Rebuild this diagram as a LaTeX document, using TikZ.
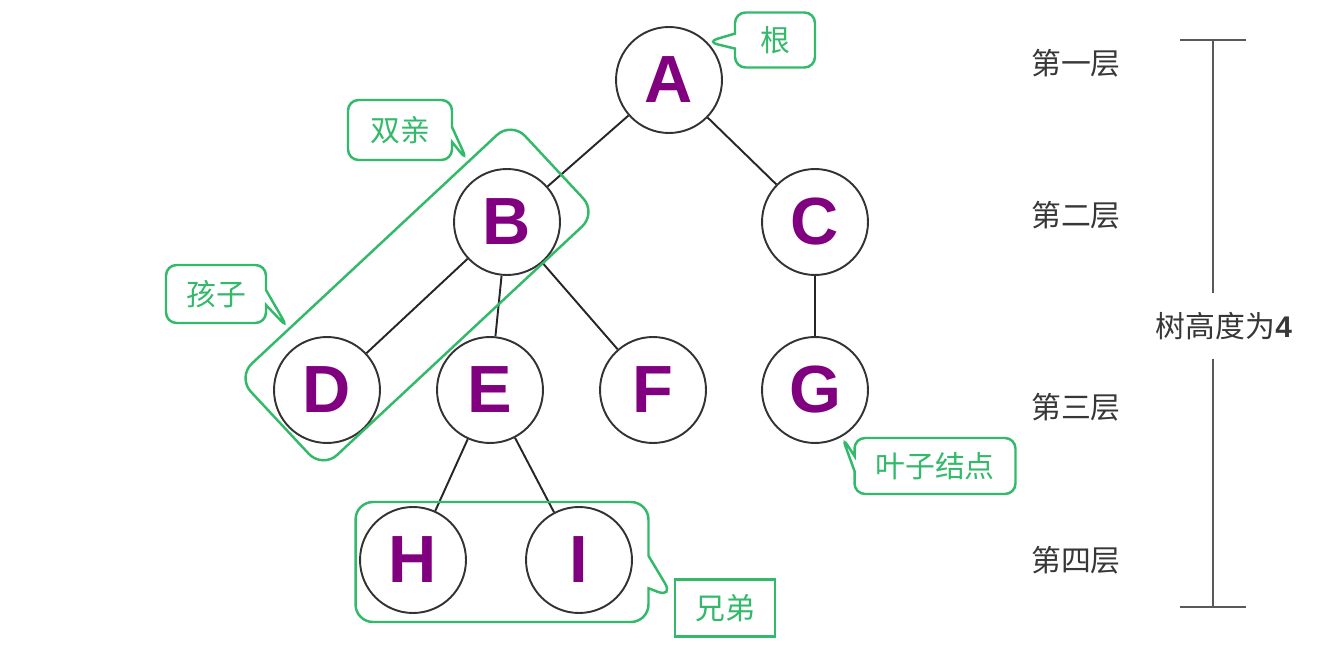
\documentclass[tikz,border=0pt]{standalone}
\usepackage{fontspec}
\setmainfont{Liberation Sans}
\newfontfamily\cjk{Noto Sans CJK SC}
\usetikzlibrary{shapes.callouts,calc}
\definecolor{letterpurple}{RGB}{128,0,128}
\definecolor{notegreen}{RGB}{50,185,105}
\definecolor{layergray}{RGB}{55,55,55}
\tikzstyle{tnode}=[circle,draw=black!80,line width=1.1pt,minimum size=2.12cm,inner sep=0pt,text=letterpurple,font=\fontsize{38}{38}\selectfont\bfseries]
\tikzstyle{tedge}=[line width=1.1pt,black!85]
\tikzstyle{note}=[rectangle callout,draw=notegreen,line width=1.4pt,rounded corners=6pt,text=notegreen,font=\cjk\fontsize{17}{17}\selectfont,inner sep=0pt,callout pointer width=0.3cm]
\tikzstyle{layer}=[text=layergray,font=\cjk\fontsize{17}{17}\selectfont]
\tikzstyle{bar}=[line width=1.1pt,black!65]

\begin{document}
\begin{tikzpicture}[x=0.02cm,y=-0.02cm]
\useasboundingbox (0,0) rectangle (1318,648);
\node[tnode] (A) at (669,80) {A};
\node[tnode] (B) at (507,222) {B};
\node[tnode] (C) at (815,222) {C};
\node[tnode] (D) at (327,390) {D};
\node[tnode] (E) at (490,390) {E};
\node[tnode] (F) at (653,390) {F};
\node[tnode] (G) at (815,390) {G};
\node[tnode] (H) at (413,560) {H};
\node[tnode] (I) at (579,560) {I};
\draw[tedge](A)--(B);\draw[tedge](A)--(C);\draw[tedge](B)--(D);\draw[tedge](B)--(E);\draw[tedge](B)--(F);
\draw[tedge](C)--(G);\draw[tedge](E)--(H);\draw[tedge](E)--(I);

% callouts
\node[draw=notegreen,line width=1.4pt,rounded corners=0.4cm,rotate=43,minimum width=7.5cm,minimum height=2.5cm] (parentbox) at (417,295) {};
\coordinate (ptpar) at ($(parentbox.north west)!0.84!(parentbox.north east)$);
\coordinate (ptkid) at ($(parentbox.north west)!0.19!(parentbox.north east)$);
\node[note,minimum width=1.6cm,minimum height=1.1cm,callout absolute pointer=(A.45)] (root) at (775,40) {根};
\node[note,minimum width=2.08cm,minimum height=1.2cm,callout absolute pointer=(ptpar)] (parent) at (400,130) {双亲};
\node[note,minimum width=2cm,minimum height=1.16cm,callout absolute pointer=(ptkid)] (kid) at (216,294) {孩子};
\node[note,minimum width=3.22cm,minimum height=1.12cm,callout absolute pointer=(G.-60)] (leaf) at (935,466) {叶子结点};
\node[draw=notegreen,line width=1.4pt,text=notegreen,font=\cjk\fontsize{17}{17}\selectfont,minimum width=2cm,minimum height=1.14cm] (brother) at (725,608) {兄弟};
\coordinate (ptsib) at ($(brother.west)+(0,-10)$);
\node[note,rounded corners=0.35cm,minimum width=5.86cm,minimum height=2.4cm,callout pointer width=0.65cm,callout absolute pointer=(ptsib)] (sibbox) at (502,562) {};

% layers and height
\node[layer] (L1) at (1076,63) {第一层};
\node[layer] (L2) at (1076,215) {第二层};
\node[layer] (L3) at (1076,407) {第三层};
\node[layer] (L4) at (1076,560) {第四层};
\coordinate (bartop) at (1213,40);
\coordinate (barbot) at (1213,607);
\node[layer,inner ysep=0.38cm,inner xsep=0pt] (height) at (1224,326) {树高度为{\rmfamily\bfseries 4}};
\draw[bar](bartop)--(bartop|-height.north);\draw[bar](bartop|-height.south)--(barbot);
\draw[bar]([xshift=-0.66cm]bartop)--([xshift=0.66cm]bartop);\draw[bar]([xshift=-0.66cm]barbot)--([xshift=0.66cm]barbot);
\end{tikzpicture}
\end{document}
